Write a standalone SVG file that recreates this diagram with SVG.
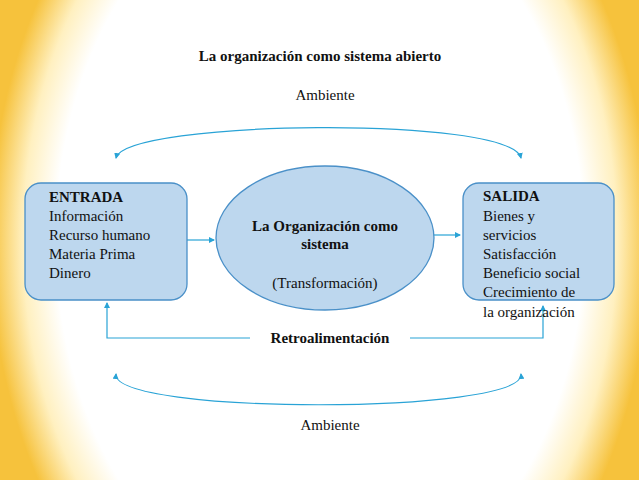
<svg xmlns="http://www.w3.org/2000/svg" width="639" height="480" viewBox="0 0 639 480">
<defs>
<radialGradient id="bg" cx="320" cy="240" r="330" gradientUnits="userSpaceOnUse" gradientTransform="translate(320 240) scale(1 1.4) translate(-320 -240)">
<stop offset="0.8" stop-color="#ffffff"/>
<stop offset="0.9" stop-color="#fff0c0"/>
<stop offset="1" stop-color="#f6c23c"/>
</radialGradient>
<marker id="ar" markerWidth="6" markerHeight="6" refX="5" refY="3" orient="auto" markerUnits="userSpaceOnUse"><path d="M0,0 L6,3 L0,6 z" fill="#29a3d6"/></marker>
<marker id="as" markerWidth="6" markerHeight="6" refX="1" refY="3" orient="auto" markerUnits="userSpaceOnUse"><path d="M6,0 L0,3 L6,6 z" fill="#29a3d6"/></marker>
<style>
.t{font-family:"Liberation Serif",serif;font-size:15px;fill:#111}
.b{font-weight:bold}
.c{fill:none;stroke:#29a3d6;stroke-width:1.2}
.n{fill:#bdd7ee;stroke:#4a90c8;stroke-width:1.3}
</style>
</defs>
<rect width="639" height="480" fill="url(#bg)"/>
<text class="t b" x="320" y="61" text-anchor="middle" font-size="14">La organización como sistema abierto</text>
<text class="t" x="325" y="100" text-anchor="middle">Ambiente</text>
<text class="t" x="330" y="430" text-anchor="middle">Ambiente</text>
<g id="connectors">
<path class="c" d="M116,158 C125,120 510,115 521,158" marker-start="url(#as)" marker-end="url(#ar)"/>
<path class="c" d="M116,374 C112,415 525,415 521,374" marker-start="url(#as)" marker-end="url(#ar)"/>
<line class="c" x1="187" y1="240" x2="214" y2="240" marker-end="url(#ar)"/>
<line class="c" x1="433" y1="235" x2="460" y2="235" marker-end="url(#ar)"/>
<path class="c" d="M250,338 H107 V303" marker-end="url(#ar)"/>
<path class="c" d="M410,338 H543 V306" marker-end="url(#ar)"/>
</g>
<g id="entrada">
<rect class="n" x="25" y="183" width="162" height="117" rx="16"/>
<text class="t b" x="49" y="202">ENTRADA</text>
<text class="t" x="49" y="221">Información</text>
<text class="t" x="49" y="240">Recurso humano</text>
<text class="t" x="49" y="259">Materia Prima</text>
<text class="t" x="49" y="278">Dinero</text>
</g>
<g id="organizacion">
<ellipse class="n" cx="325" cy="238" rx="109" ry="72"/>
<text class="t b" x="325" y="231" text-anchor="middle">La Organización como</text>
<text class="t b" x="325" y="249" text-anchor="middle">sistema</text>
<text class="t" x="325" y="288" text-anchor="middle">(Transformación)</text>
</g>
<g id="salida">
<rect class="n" x="463" y="183" width="151" height="117" rx="16"/>
<text class="t b" x="483" y="201">SALIDA</text>
<text class="t" x="483" y="221">Bienes y</text>
<text class="t" x="483" y="240">servicios</text>
<text class="t" x="483" y="259">Satisfacción</text>
<text class="t" x="483" y="278">Beneficio social</text>
<text class="t" x="483" y="297">Crecimiento de</text>
<text class="t" x="483" y="317">la organización</text>
</g>
<g id="retro">
<text class="t b" x="330" y="343" text-anchor="middle">Retroalimentación</text>
</g>
</svg>
